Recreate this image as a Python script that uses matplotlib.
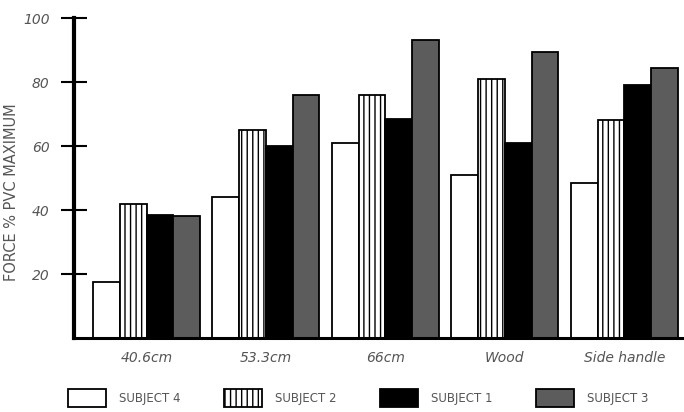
import numpy as np
import matplotlib
matplotlib.use('Agg')
import matplotlib.pyplot as plt

# valores
condicoes = ['40.6cm', '53.3cm', '66cm', 'Wood', 'Side handle']
sujeito4 = [17.5, 44, 61, 51, 48.5]
sujeito2 = [42, 65, 76, 81, 68]
sujeito1 = [38.5, 60, 68.5, 61, 79]
sujeito3 = [38, 76, 93, 89.5, 84.5]
yticks = [20, 40, 60, 80, 100]

cinza = '#555555'

fig = plt.figure(figsize=(6.84, 4.12), dpi=100)
ax = fig.add_axes([74 / 684, 74 / 412, 610 / 684, 320 / 412])

x = np.arange(len(condicoes))
w = 0.224
b4 = ax.bar(x - 1.5 * w, sujeito4, w, color='white', edgecolor='black', lw=1.3, label='SUBJECT 4')
b2 = ax.bar(x - 0.5 * w, sujeito2, w, color='white', edgecolor='black', lw=1.3, hatch='|||', label='SUBJECT 2')
b1 = ax.bar(x + 0.5 * w, sujeito1, w, color='black', edgecolor='black', lw=1.3, label='SUBJECT 1')
b3 = ax.bar(x + 1.5 * w, sujeito3, w, color='#5c5c5c', edgecolor='black', lw=1.3, label='SUBJECT 3')

ax.set_xlim(-0.607, 4.5)
ax.set_ylim(0, 100)

ax.spines['top'].set_visible(False)
ax.spines['right'].set_visible(False)
ax.spines['left'].set_linewidth(3)
ax.spines['bottom'].set_linewidth(2.2)

ax.set_yticks(yticks)
ax.set_yticklabels([str(v) for v in yticks], fontstyle='italic', color=cinza, fontsize=10)
ax.tick_params(axis='y', direction='inout', length=19, width=1.5, pad=8)

ax.set_xticks(x)
ax.set_xticklabels(condicoes, fontstyle='italic', color=cinza, fontsize=10)
ax.tick_params(axis='x', length=0, pad=9)

fig.text(12 / 684, 1 - 192 / 412, 'FORCE % PVC MAXIMUM', rotation=90,
         ha='center', va='center', color=cinza, fontsize=10.5)

fig.legend(handles=[b4, b2, b1, b3], loc='center left', ncol=4,
           bbox_to_anchor=(68 / 684, 1 - 398 / 412), frameon=False,
           fontsize=8.5, labelcolor=cinza, handlelength=3.2, handleheight=2.0,
           handletextpad=1.1, columnspacing=3.7, borderaxespad=0, borderpad=0)

plt.savefig('out.png', dpi=100)
